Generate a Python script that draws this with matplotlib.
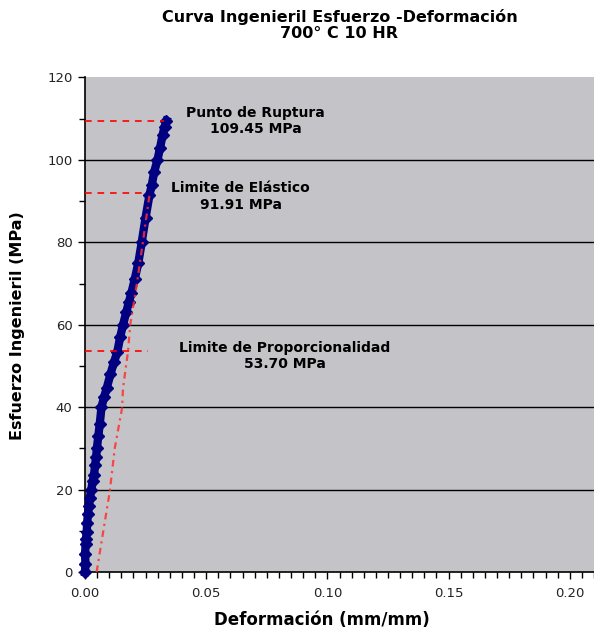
import matplotlib
matplotlib.use("Agg")
import matplotlib.pyplot as plt
from matplotlib.ticker import MultipleLocator

# Measured stress-strain curve (strain mm/mm, stress MPa)
strain = [0.0000, 0.0002, 0.0000, 0.0003, 0.0004, 0.0007, 0.0009, 0.0012,
          0.0016, 0.0020, 0.0026, 0.0032, 0.0037, 0.0042, 0.0046, 0.0049,
          0.0055, 0.0061, 0.0068, 0.0079, 0.0090, 0.0105, 0.0120, 0.0133,
          0.0145, 0.0157, 0.0170, 0.0181, 0.0191, 0.0205, 0.0220, 0.0234,
          0.0250, 0.0266, 0.0276, 0.0285, 0.0299, 0.0310, 0.0320, 0.0328,
          0.0336]
stress = [0.0, 2.0, 4.4, 6.9, 8.1, 9.7, 12.0, 14.0,
          16.0, 18.0, 20.0, 22.0, 23.5, 26.0, 28.0, 30.0,
          33.0, 36.0, 40.0, 42.5, 44.7, 48.0, 51.0, 53.3,
          57.0, 60.0, 63.0, 65.5, 67.6, 71.0, 75.0, 80.0,
          86.0, 91.5, 94.0, 97.0, 100.0, 103.0, 106.0, 108.0,
          109.45]

# Offset (proportional) line
offset_strain = [0.0048, 0.0102, 0.0123, 0.0153, 0.0157, 0.0177, 0.0187,
                 0.0211, 0.0239, 0.0266]
offset_stress = [0.0, 19.5, 30.1, 39.8, 44.7, 53.3, 60.2, 68.8, 80.1, 91.5]

# Characteristic points: label, value, end strain of guide line, label position
point_labels = ["Punto de Ruptura", "Limite de Elástico", "Limite de Proporcionalidad"]
point_values = [109.45, 91.91, 53.70]
guide_ends = [0.0327, 0.0245, 0.0260]
label_pos = [(0.0703, 109.4), (0.0642, 91.1), (0.0823, 52.4)]

x_ticks = [0.00, 0.05, 0.10, 0.15, 0.20]
y_ticks = [0, 20, 40, 60, 80, 100, 120]

fig = plt.figure(figsize=(5.94, 6.34), dpi=100)
ax = fig.add_axes([0.1431, 0.0978, 0.8569, 0.7800])
ax.set_facecolor("#C4C3C7")

ax.set_xlim(0, 0.21)
ax.set_ylim(0, 120)

for v in y_ticks[1:-1]:
    ax.axhline(v, color="black", lw=1.0, zorder=1)

ax.plot(strain, stress, color="#000080", lw=6.0, marker="D", ms=6.5,
        mec="#000080", mfc="#000080", zorder=3, clip_on=False)

ax.plot(offset_strain, offset_stress, color="#FF3030", lw=1.6,
        ls=(0, (3, 2, 1, 2)), alpha=0.85, zorder=4)

for (txt, val, xe, pos) in zip(point_labels, point_values, guide_ends, label_pos):
    ax.plot([0, xe], [val, val], color="#FF0000", lw=1.2, ls=(0, (4, 3.5)), zorder=4)
    ax.text(pos[0], pos[1], f"{txt}\n{val:.2f} MPa", ha="center", va="center",
            fontsize=10, fontweight="bold", family="DejaVu Sans",
            linespacing=1.2, zorder=5)

ax.set_xticks(x_ticks)
ax.set_xticklabels([f"{v:.2f}" for v in x_ticks])
ax.set_yticks(y_ticks)
ax.xaxis.set_minor_locator(MultipleLocator(0.005))
ax.yaxis.set_minor_locator(MultipleLocator(10))
ax.tick_params(axis="both", which="major", direction="out", length=5,
               width=1, color="black", labelsize=9.5, labelcolor="#222222")
ax.tick_params(axis="both", which="minor", direction="out", length=4,
               width=1, color="black")
ax.tick_params(axis="x", pad=6)
ax.tick_params(axis="y", pad=4)

for s in ["top", "right"]:
    ax.spines[s].set_visible(False)
for s in ["left", "bottom"]:
    ax.spines[s].set_color("black")
    ax.spines[s].set_linewidth(1.2)

fig.text(0.5715, 0.986, "Curva Ingenieril Esfuerzo -Deformación\n700° C 10 HR",
         ha="center", va="top", fontsize=11.5, fontweight="bold",
         family="DejaVu Sans", linespacing=1.1)

fig.text(0.542, 0.022, "Deformación (mm/mm)", ha="center", va="center",
         fontsize=12, fontweight="bold", family="DejaVu Sans")
fig.text(0.030, 0.486, "Esfuerzo Ingenieril (MPa)", rotation=90,
         ha="center", va="center", fontsize=11.5, fontweight="bold",
         family="DejaVu Sans")

fig.savefig("out.png", dpi=100)
